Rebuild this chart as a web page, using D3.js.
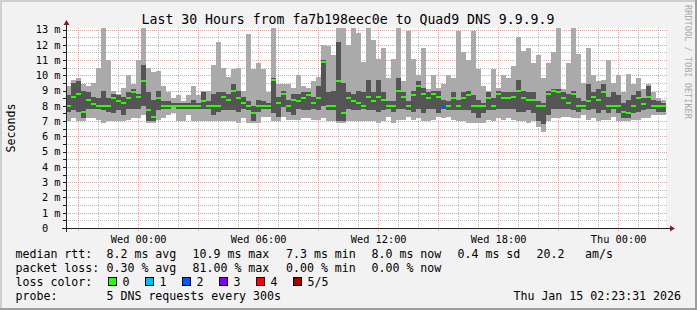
<!DOCTYPE html>
<html>
<head>
<meta charset="utf-8">
<script src="https://cdn.jsdelivr.net/npm/d3@7"></script>
<style>
    body { margin: 0; background: #f2f2f2; }
    svg { display: block; font-family: "DejaVu Sans Mono", monospace; }
</style>
</head>
<body>
<svg></svg>
<script>
var width = 697;
var height = 310;

// time range of the graph, one bin every 15 minutes
var startTime = "2026-01-13T20:23:31Z";
var endTime = "2026-01-15T02:23:31Z";
var binMinutes = 15;

// the 5 sorted pings per bin: min, 2nd, median, 4th, max (ms)
var pingMin = [7.0,7.2,7.0,7.0,7.2,7.2,7.1,6.9,7.0,7.0, 7.0,7.0,7.1,7.2,7.2,7.4,6.9,6.9,7.1,7.2,
    7.4,7.5,7.0,7.0,7.4,7.0,7.0,7.0,7.0,7.0, 7.0,7.0,7.0,7.0,6.9,7.2,6.9,6.9,6.9,7.3,
    7.3,7.0,7.0,7.3,7.1,7.1,7.1,7.2,7.2,7.1, 7.1,7.2,7.0,7.0,6.9,6.9,7.0,7.0,7.0,7.0,
    7.0,7.0,6.9,7.0,7.3,6.9,7.1,7.1,7.3,7.1, 7.2,7.0,7.0,7.1,7.3,7.2,7.3,7.1,7.0,7.0,
    6.9,6.9,6.9,6.9,7.1,7.0,7.2,7.1,7.2,7.1, 7.0,7.0,6.9,7.0,6.6,6.3,7.0,7.2,7.2,7.3,
    7.3,7.2,7.2,7.4,7.1,7.2,7.0,7.1,7.1,7.3, 7.0,7.0,7.0,7.1,7.1,7.2,7.2,7.4,7.4,7.4];
var pingLo = [7.6,7.7,7.6,7.2,7.8,7.8,7.8,7.7,7.6,7.5, 7.7,7.4,7.8,7.8,7.8,8.0,7.0,7.0,7.7,7.8,
    7.8,7.9,7.8,7.8,7.8,7.8,7.8,7.8,7.8,7.4, 7.6,7.7,7.7,7.7,7.6,7.8,7.7,7.0,7.6,7.8,
    7.8,7.5,7.3,7.9,7.6,7.4,7.8,7.7,7.7,7.8, 7.7,8.0,7.7,7.7,7.0,7.0,7.8,7.7,7.7,7.8,
    7.7,7.7,7.6,7.7,7.8,7.6,7.8,7.8,7.7,7.6, 7.8,7.5,7.8,7.8,7.5,7.8,7.7,7.7,7.7,7.7,
    7.7,7.5,7.2,7.5,7.7,7.7,7.8,7.8,7.8,7.8, 7.6,7.6,7.7,7.5,7.0,6.8,7.4,7.8,7.8,7.8,
    7.8,7.7,7.6,7.8,7.7,7.8,7.5,7.7,7.5,7.8, 7.5,7.2,7.2,7.5,7.6,7.7,7.8,7.8,7.6,7.6];
var pingMedian = [8.0,8.6,8.8,7.6,8.4,8.1,8.0,8.0,8.0,8.5, 8.3,8.2,8.5,8.9,8.6,9.6,7.7,7.3,8.5,8.0,
    8.0,8.0,8.0,8.0,8.0,8.0,8.0,8.3,8.0,8.0, 8.0,8.6,8.4,9.0,8.5,8.2,8.0,7.5,8.0,8.0,
    8.0,9.7,8.2,8.8,8.0,8.4,8.3,8.5,8.7,8.2, 8.5,10.9,8.0,8.0,9.6,7.5,8.5,8.3,8.2,8.0,
    8.6,8.3,8.6,8.4,8.0,8.0,9.0,8.6,8.0,8.7, 9.3,8.8,8.5,8.8,8.6,8.0,8.0,8.5,8.0,8.5,
    8.7,8.0,8.0,8.0,8.5,8.0,8.8,8.5,8.5,8.6, 9.0,8.5,8.4,8.4,8.0,8.0,8.8,9.0,8.9,8.5,
    8.2,8.8,8.0,8.0,8.3,8.6,8.4,8.9,8.0,8.0, 8.0,7.6,7.5,8.0,8.5,8.1,8.6,8.0,8.0,8.0];
var pingHi = [8.7,9.5,9.6,9.0,8.9,8.6,8.5,9.0,8.5,8.8, 8.7,8.6,8.9,9.1,8.8,10.7,8.9,8.4,9.0,8.3,
    8.3,8.2,8.2,8.2,8.2,8.4,8.2,8.9,8.3,8.8, 8.9,8.9,8.8,9.4,9.0,8.6,8.3,8.0,8.4,8.3,
    8.2,9.8,8.6,9.0,8.4,8.8,8.8,8.9,8.9,8.6, 9.3,11.0,8.9,9.0,12.2,9.5,8.9,8.8,9.0,8.9,
    9.7,8.9,9.7,8.9,8.3,8.3,9.8,8.9,8.3,9.0, 9.6,9.2,8.9,9.0,9.0,8.4,8.3,8.9,8.4,8.9,
    9.0,8.7,8.4,8.2,8.9,8.5,9.0,8.9,8.9,8.9, 9.7,9.0,8.9,8.9,8.3,8.2,9.0,9.1,9.1,8.9,
    8.8,9.0,8.5,8.3,9.4,8.9,9.1,9.4,8.6,8.9, 8.7,8.2,8.4,8.7,9.0,8.5,9.3,8.4,8.3,8.2];
var pingMax = [9.3,9.7,9.8,9.4,9.3,9.5,10.5,13.1,11.0,9.0, 8.8,9.2,10.0,9.4,11.0,13.1,10.5,10.2,10.3,9.3,
    8.9,8.5,8.7,8.3,8.7,9.3,8.7,9.0,9.0,10.7, 12.2,10.5,9.9,10.4,10.5,9.0,12.7,10.4,10.8,10.4,
    8.9,13.1,9.4,9.4,9.4,9.2,10.0,9.3,9.2,9.6, 9.9,12.0,11.9,11.3,13.1,13.1,12.0,13.1,12.8,10.9,
    13.1,12.3,11.1,11.8,9.8,11.1,13.1,9.6,12.9,11.1, 10.0,11.8,9.1,10.0,9.2,9.4,10.0,9.8,12.9,11.5,
    11.0,12.9,10.4,9.3,9.0,10.4,9.2,10.0,9.8,10.6, 12.5,11.6,11.8,10.8,11.3,9.8,10.8,11.5,13.1,9.1,
    10.8,13.1,11.4,9.5,11.8,10.0,9.6,9.7,11.0,9.5, 10.0,8.9,10.1,9.4,9.8,9.1,9.4,8.9,8.5,8.4];
// lost pings per bin (0..5)
var lostPings = [0,0,0,0,0,0,0,0,0,0, 0,0,0,0,0,0,0,0,0,0, 0,0,0,0,0,0,0,0,0,0,
    0,0,0,0,0,0,0,0,0,0, 0,0,0,0,0,0,0,0,0,0, 0,0,0,0,0,0,0,0,0,0,
    0,0,0,0,0,0,0,0,0,0, 0,0,0,0,0,2,0,0,0,0, 0,0,0,0,0,0,0,0,0,0,
    0,0,0,0,0,0,0,0,0,0, 0,0,0,0,0,0,0,0,0,0, 0,0,0,0,0,0,0,0,0,0];

var lossLabels = ["0", "1", "2", "3", "4", "5/5"];
var lossColors = ["#26ff00", "#00b8ff", "#0059ff", "#7e00ff", "#ff0000", "#a10000"];

var rttStats = ["8.2 ms avg", "10.9 ms max", "7.3 ms min", "8.0 ms now", "0.4 ms sd", "20.2", "am/s"];
var lossStats = ["0.30 % avg", "81.00 % max", "0.00 % min", "0.00 % now"];

var titleText = "Last 30 Hours from fa7b198eec0e to Quad9 DNS 9.9.9.9";
var probeText = "5 DNS requests every 300s";
var stampText = "Thu Jan 15 02:23:31 2026";

var svg = d3.select("svg")
    .attr("width", width)
    .attr("height", height);

// background and 3d frame
svg.append("rect").attr("width", width).attr("height", height).attr("fill", "#f2f2f2");
svg.append("rect").attr("width", width).attr("height", 2).attr("fill", "#cfcfcf");
svg.append("rect").attr("width", 2).attr("height", height).attr("fill", "#cfcfcf");
svg.append("rect").attr("y", height - 2).attr("width", width).attr("height", 2).attr("fill", "#9e9e9e");
svg.append("rect").attr("x", width - 2).attr("width", 2).attr("height", height).attr("fill", "#9e9e9e");

var x = d3.scaleUtc()
    .domain([new Date(startTime), new Date(endTime)])
    .range([66, 666]);

var y = d3.scaleLinear()
    .domain([0, 13.1])
    .range([228, 28])
    .clamp(true);

// canvas
svg.append("rect")
    .attr("x", 66).attr("y", 28)
    .attr("width", 600).attr("height", 200)
    .attr("fill", "#ffffff");

var grid = svg.append("g");
var minorGrid = "rgba(143,143,143,0.6)";
var majorGrid = "rgba(222,79,79,0.55)";

// horizontal grid
grid.selectAll(".hmin")
    .data(y.ticks(26).filter(function(d) { return d % 1 !== 0; }))
    .enter().append("line")
    .attr("x1", 66).attr("x2", 668)
    .attr("y1", function(d) { return Math.round(y(d)) + 0.5; })
    .attr("y2", function(d) { return Math.round(y(d)) + 0.5; })
    .attr("stroke", minorGrid).attr("stroke-dasharray", "1,1");
grid.selectAll(".hmaj")
    .data(y.ticks(13).filter(function(d) { return d > 0; }))
    .enter().append("line")
    .attr("x1", 66).attr("x2", 668)
    .attr("y1", function(d) { return Math.round(y(d)) + 0.5; })
    .attr("y2", function(d) { return Math.round(y(d)) + 0.5; })
    .attr("stroke", majorGrid).attr("stroke-dasharray", "1,1");

// vertical grid
var hourTicks = x.ticks(d3.utcHour.every(1));
grid.selectAll(".vmin")
    .data(hourTicks.filter(function(d) { return d.getUTCHours() % 3 !== 0; }))
    .enter().append("line")
    .attr("x1", function(d) { return Math.round(x(d)) + 0.5; })
    .attr("x2", function(d) { return Math.round(x(d)) + 0.5; })
    .attr("y1", 28).attr("y2", 230)
    .attr("stroke", minorGrid).attr("stroke-dasharray", "1,1");
grid.selectAll(".vmaj")
    .data(hourTicks.filter(function(d) { return d.getUTCHours() % 3 === 0; }))
    .enter().append("line")
    .attr("x1", function(d) { return Math.round(x(d)) + 0.5; })
    .attr("x2", function(d) { return Math.round(x(d)) + 0.5; })
    .attr("y1", 28).attr("y2", 232)
    .attr("stroke", majorGrid).attr("stroke-dasharray", "1,1");

// smoke
var t0 = new Date(startTime).getTime();
var bins = pingMedian.map(function(m, i) {
    return {
        t0: new Date(t0 + i * binMinutes * 60000),
        t1: new Date(t0 + (i + 1) * binMinutes * 60000),
        p1: pingMin[i], p2: pingLo[i], p3: m, p4: pingHi[i], p5: pingMax[i],
        loss: lostPings[i]
    };
});

var smoke = svg.append("g").attr("shape-rendering", "crispEdges");
smoke.selectAll(".outer")
    .data(bins).enter().append("rect")
    .attr("x", function(d) { return x(d.t0); })
    .attr("width", function(d) { return x(d.t1) - x(d.t0); })
    .attr("y", function(d) { return y(d.p5); })
    .attr("height", function(d) { return y(d.p1) - y(d.p5); })
    .attr("fill", "#aaaaaa");
smoke.selectAll(".inner")
    .data(bins).enter().append("rect")
    .attr("x", function(d) { return x(d.t0); })
    .attr("width", function(d) { return x(d.t1) - x(d.t0); })
    .attr("y", function(d) { return y(d.p4); })
    .attr("height", function(d) { return y(d.p2) - y(d.p4); })
    .attr("fill", "#555555");
smoke.selectAll(".median")
    .data(bins).enter().append("rect")
    .attr("x", function(d) { return x(d.t0); })
    .attr("width", function(d) { return x(d.t1) - x(d.t0); })
    .attr("y", function(d) { return y(d.p3) - 1; })
    .attr("height", 2)
    .attr("fill", function(d) { return lossColors[d.loss]; });

// axes
var axisColor = "#1f1f1f";
var arrowColor = "#801f1f";

var xAxis = d3.axisBottom(x)
    .tickValues(x.ticks(d3.utcHour.every(6)))
    .tickFormat(d3.utcFormat("%a %H:%M"))
    .tickSize(0).tickPadding(7);
var gx = svg.append("g").attr("transform", "translate(0,228.5)").call(xAxis);
gx.select(".domain").remove();
gx.selectAll("text").attr("font-size", "10.3px").attr("font-family", "DejaVu Sans Mono").attr("fill", "#000");

var yAxis = d3.axisLeft(y)
    .tickValues(y.ticks(13))
    .tickFormat(function(d) { return d === 0 ? "0\u00a0\u00a0" : d + "\u00a0m"; })
    .tickSize(0).tickPadding(6);
var gy = svg.append("g").attr("transform", "translate(66.5,0)").call(yAxis);
gy.select(".domain").remove();
gy.selectAll("text").attr("font-size", "10.3px").attr("font-family", "DejaVu Sans Mono").attr("fill", "#000");

// small y ticks
svg.append("g").selectAll("line")
    .data(y.ticks(26))
    .enter().append("line")
    .attr("x1", 63).attr("x2", 66)
    .attr("y1", function(d) { return Math.round(y(d)) + 0.5; })
    .attr("y2", function(d) { return Math.round(y(d)) + 0.5; })
    .attr("stroke", axisColor);

svg.append("line").attr("x1", 62).attr("x2", 671).attr("y1", 228.5).attr("y2", 228.5).attr("stroke", axisColor);
svg.append("line").attr("x1", 66.5).attr("x2", 66.5).attr("y1", 232).attr("y2", 24).attr("stroke", axisColor);
svg.append("path").attr("d", "M670,225.5L675,228.5L670,231.5Z").attr("fill", arrowColor);
svg.append("path").attr("d", "M63.5,25L66.5,20L69.5,25Z").attr("fill", arrowColor);

// titles
svg.append("text")
    .attr("x", 348).attr("y", 24)
    .attr("text-anchor", "middle")
    .attr("font-size", "13.2px")
    .text(titleText);

svg.append("text")
    .attr("transform", "translate(15,128) rotate(-90)")
    .attr("text-anchor", "middle")
    .attr("font-size", "11.6px")
    .text("Seconds");

svg.append("text")
    .attr("transform", "translate(685,62) rotate(90)")
    .attr("text-anchor", "middle")
    .attr("font-size", "8.6px")
    .attr("fill", "#aaaaaa")
    .text("RRDTOOL / TOBI OETIKER");

// legend
var legend = svg.append("g").attr("font-size", "11.6px");
var rowY = [258, 272, 286, 300];
var statX = [106.5, 192.5, 286, 371.5, 457.5, 536.5, 585];

legend.append("text").attr("x", 15.5).attr("y", rowY[0]).text("median rtt:");
legend.selectAll(".rtt").data(rttStats).enter().append("text")
    .attr("x", function(d, i) { return statX[i]; })
    .attr("y", rowY[0])
    .text(function(d) { return d; });

legend.append("text").attr("x", 15.5).attr("y", rowY[1]).text("packet loss:");
legend.selectAll(".loss").data(lossStats).enter().append("text")
    .attr("x", function(d, i) { return statX[i]; })
    .attr("y", rowY[1])
    .text(function(d) { return d; });

legend.append("text").attr("x", 15.5).attr("y", rowY[2]).text("loss color:");
var swatch = legend.selectAll(".swatch").data(lossLabels).enter().append("g")
    .attr("transform", function(d, i) { return "translate(" + (108.5 + i * 37) + ",0)"; });
swatch.append("rect")
    .attr("x", 0).attr("y", rowY[2] - 8.5)
    .attr("width", 8).attr("height", 8)
    .attr("fill", function(d, i) { return lossColors[i]; })
    .attr("stroke", "#000");
swatch.append("text")
    .attr("x", 14).attr("y", rowY[2])
    .text(function(d) { return d; });

legend.append("text").attr("x", 15.5).attr("y", rowY[3]).text("probe:");
legend.append("text").attr("x", 106.5).attr("y", rowY[3]).text(probeText);
legend.append("text").attr("x", 681).attr("y", rowY[3]).attr("text-anchor", "end").text(stampText);
</script>
</body>
</html>
